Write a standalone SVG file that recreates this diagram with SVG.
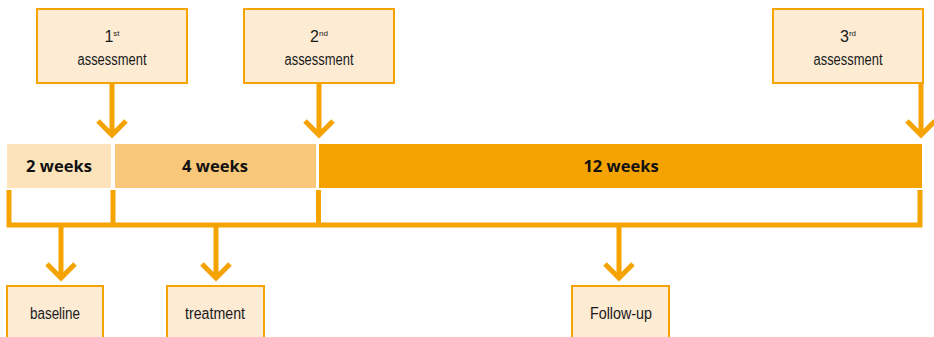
<svg xmlns="http://www.w3.org/2000/svg" width="934" height="337" viewBox="0 0 934 337">
  <defs>
    <style>
      .box { fill: #FDEBD3; stroke: #F5A300; stroke-width: 2; }
      .lbl { font-family: "Liberation Sans", Arial, sans-serif; font-size: 16px; fill: #1a1a1a; text-anchor: middle; }
      .sup { font-size: 8px; }
      .dur { font-family: "Open Sans", "Liberation Sans", sans-serif; font-weight: bold; font-size: 16.5px; fill: #111; text-anchor: middle; }
      .ln { fill: none; stroke: #F5A300; stroke-width: 5; }
    </style>
  </defs>
  <rect width="934" height="337" fill="#ffffff"/>

  <!-- assessment boxes -->
  <g id="assess1">
    <rect class="box" x="37" y="9" width="150" height="74"/>
    <text class="lbl" x="112" y="42"><tspan>1</tspan><tspan class="sup" dy="-6">st</tspan></text>
    <text class="lbl" x="112" y="65" textLength="69" lengthAdjust="spacingAndGlyphs">assessment</text>
  </g>
  <g id="assess2">
    <rect class="box" x="244" y="9" width="150" height="74"/>
    <text class="lbl" x="319" y="42"><tspan>2</tspan><tspan class="sup" dy="-6">nd</tspan></text>
    <text class="lbl" x="319" y="65" textLength="69" lengthAdjust="spacingAndGlyphs">assessment</text>
  </g>
  <g id="assess3">
    <rect class="box" x="773" y="9" width="150" height="74"/>
    <text class="lbl" x="848" y="42"><tspan>3</tspan><tspan class="sup" dy="-6">rd</tspan></text>
    <text class="lbl" x="848" y="65" textLength="69" lengthAdjust="spacingAndGlyphs">assessment</text>
  </g>

  <!-- timeline segments -->
  <g id="seg2w">
    <rect x="7" y="144" width="104" height="44" fill="#FDE3BA"/>
    <text class="dur" x="59" y="172">2 weeks</text>
  </g>
  <g id="seg4w">
    <rect x="115" y="144" width="201" height="44" fill="#F9C87A"/>
    <text class="dur" x="215" y="172">4 weeks</text>
  </g>
  <g id="seg12w">
    <rect x="319" y="144" width="603" height="44" fill="#F5A300"/>
    <text class="dur" x="621" y="172">12 weeks</text>
  </g>

  <!-- phase boxes -->
  <g id="baseline">
    <rect class="box" x="7" y="286" width="96" height="56"/>
    <text class="lbl" x="55" y="319" textLength="50" lengthAdjust="spacingAndGlyphs">baseline</text>
  </g>
  <g id="treatment">
    <rect class="box" x="167" y="286" width="97" height="56"/>
    <text class="lbl" x="215" y="319" textLength="60" lengthAdjust="spacingAndGlyphs">treatment</text>
  </g>
  <g id="followup">
    <rect class="box" x="572" y="286" width="97" height="56"/>
    <text class="lbl" x="621" y="319" textLength="62" lengthAdjust="spacingAndGlyphs">Follow-up</text>
  </g>

  <!-- connectors -->
  <g id="connectors">
    <!-- assessment arrows -->
    <path class="ln" d="M112 83 V134 M98 121 L112 135 L126 121"/>
    <path class="ln" d="M319 83 V134 M305 121 L319 135 L333 121"/>
    <path class="ln" d="M921 83 V134 M907 121 L921 135 L935 121"/>
    <!-- bracket under the timeline -->
    <path class="ln" d="M9 190 V225 H920 V190 M113 190 V225 M318.5 190 V225"/>
    <!-- phase arrows -->
    <path class="ln" d="M61 225 V278 M47 264 L61 278 L75 264"/>
    <path class="ln" d="M216 225 V278 M202 264 L216 278 L230 264"/>
    <path class="ln" d="M619 225 V278 M605 264 L619 278 L633 264"/>
  </g>
</svg>
